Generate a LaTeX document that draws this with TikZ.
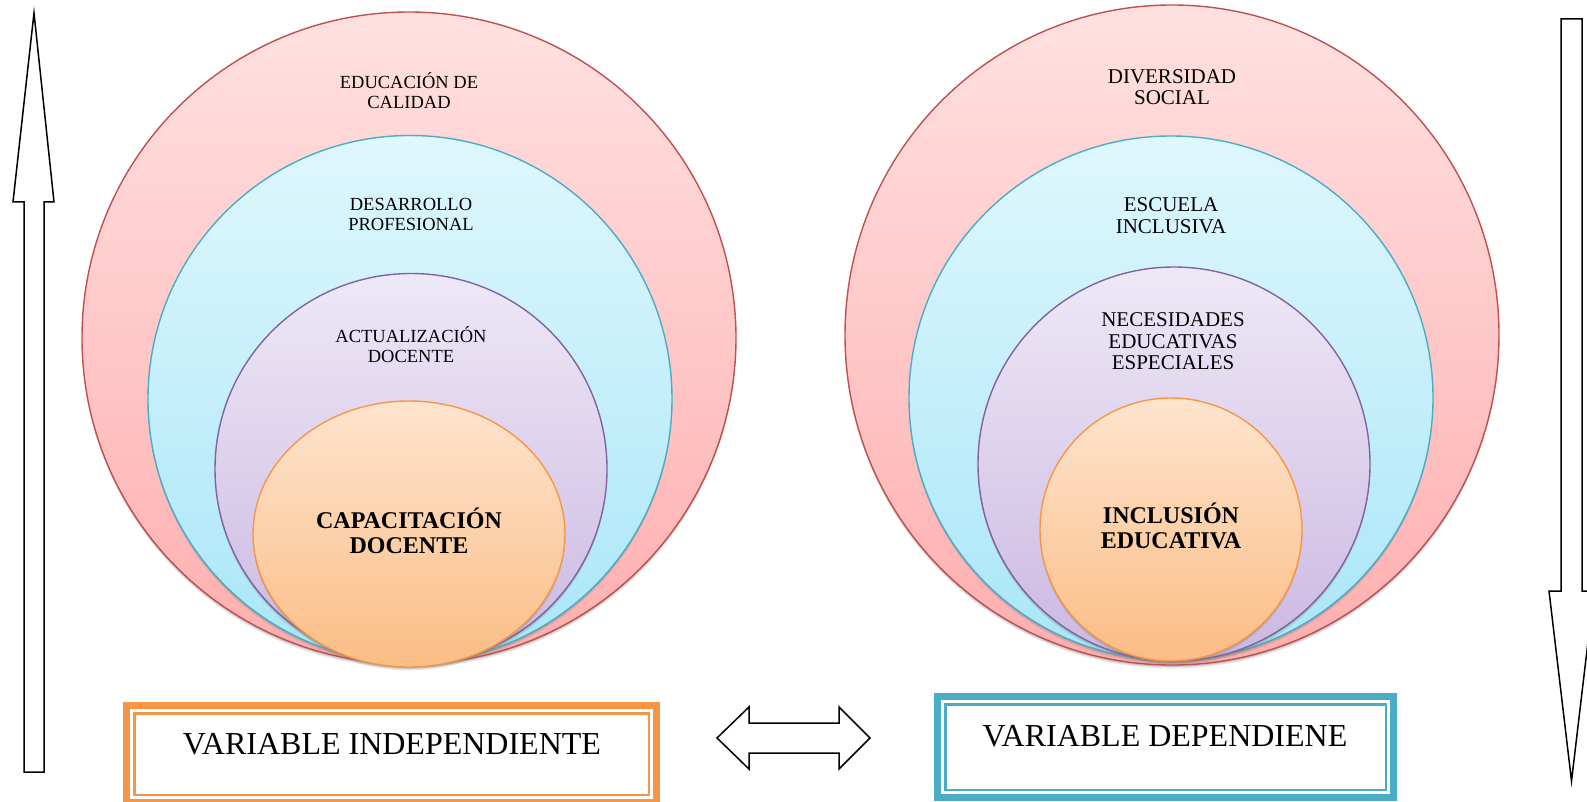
\documentclass[tikz,border=0pt]{standalone}
\usepackage{fontspec}
\setmainfont{Liberation Serif}
\usetikzlibrary{shapes.geometric,shadows}
\definecolor{redline}{HTML}{C0504D}
\definecolor{redtop}{HTML}{FFE1E1}
\definecolor{redbot}{HTML}{FFAEAE}
\definecolor{blueline}{HTML}{4BACC6}
\definecolor{bluetop}{HTML}{DFF7FD}
\definecolor{bluebot}{HTML}{A9E6F8}
\definecolor{purpline}{HTML}{8064A2}
\definecolor{purptop}{HTML}{EEE8F6}
\definecolor{purpbot}{HTML}{CBB8E2}
\definecolor{orgline}{HTML}{F79646}
\definecolor{orgtop}{HTML}{FEE4CE}
\definecolor{orgbot}{HTML}{FBBD85}
\definecolor{boxorg}{HTML}{F79646}
\definecolor{boxblue}{HTML}{4BACC6}
\tikzset{
  ring/.style={ellipse, inner sep=0pt, line width=1.4pt,
    drop shadow={shadow xshift=0pt, shadow yshift=-3.5pt, opacity=0.2},
    drop shadow={shadow xshift=0pt, shadow yshift=-1.8pt, opacity=0.35}},
  ringred/.style={ring, draw=redline, top color=redtop, bottom color=redbot},
  ringblue/.style={ring, draw=blueline, top color=bluetop, bottom color=bluebot},
  ringpurp/.style={ring, draw=purpline, top color=purptop, bottom color=purpbot},
  ringorg/.style={ring, draw=orgline, top color=orgtop, bottom color=orgbot},
  lblS/.style={align=center, inner sep=0pt, font=\fontsize{18.5}{19.5}\selectfont},
  lblM/.style={align=center, inner sep=0pt, font=\fontsize{21}{21.5}\selectfont},
  lblB/.style={align=center, inner sep=0pt, font=\bfseries\fontsize{24}{25}\selectfont},
  varbox/.style={rectangle, line width=7pt, fill=white, inner sep=0pt, outer sep=0pt},
  innerline/.style={line width=2.5pt},
  boxtext/.style={font=\fontsize{32}{34}\selectfont, inner sep=0pt, anchor=base},
  bigarrow/.style={draw=black, line width=1.5pt, fill=white, line join=miter}
}
\begin{document}
\begin{tikzpicture}[x=1pt,y=-1pt]
\useasboundingbox (0,0) rectangle (1587,802);
\fill[white] (0,0) rectangle (1587,802);

% left group
\node[ringred,  minimum width=654pt, minimum height=652pt] (LA) at (409,338) {};
\node[ringblue, minimum width=524pt, minimum height=527pt] (LB) at (410,399) {};
\node[ringpurp, minimum width=392pt, minimum height=391pt] (LC) at (411,469) {};
\node[ringorg,  minimum width=312pt, minimum height=266pt] (LD) at (409,534) {};
% right group
\node[ringred,  minimum width=654pt, minimum height=660pt] (RA) at (1172,335) {};
\node[ringblue, minimum width=524pt, minimum height=524pt] (RB) at (1171,398) {};
\node[ringpurp, minimum width=392pt, minimum height=394pt] (RC) at (1174,464) {};
\node[ringorg,  minimum width=262pt, minimum height=263pt] (RD) at (1171,529.5) {};

% labels
\node[lblS] (tLA) at (409,90.5) {EDUCACIÓN DE\\CALIDAD};
\node[lblS] (tLB) at (411,214.5) {DESARROLLO\\PROFESIONAL};
\node[lblS] (tLC) at (411,344.5) {ACTUALIZACIÓN\\DOCENTE};
\node[lblB] (tLD) at (409,531) {CAPACITACIÓN\\DOCENTE};
\node[lblM] (tRA) at (1172,87) {DIVERSIDAD\\SOCIAL};
\node[lblM] (tRB) at (1171,215.5) {ESCUELA\\INCLUSIVA};
\node[lblM] (tRC) at (1173,341.5) {NECESIDADES\\EDUCATIVAS\\ESPECIALES};
\node[lblB] (tRD) at (1171,526) {INCLUSIÓN\\EDUCATIVA};

% boxes (anchors lie on the centre of the thick border line)
\node[varbox, draw=boxorg, minimum width=530pt, minimum height=97pt] (boxL) at (391.5,754) {};
\draw[innerline, boxorg] ([shift={(7.75,7.75)}]boxL.north west) rectangle ([shift={(-7.75,-7.75)}]boxL.south east);
\node[boxtext] (txtL) at (392,754) {VARIABLE INDEPENDIENTE};

\node[varbox, draw=boxblue, minimum width=456pt, minimum height=101pt] (boxR) at (1165.5,747) {};
\draw[innerline, boxblue] ([shift={(7.75,7.75)}]boxR.north west) rectangle ([shift={(-7.75,-7.75)}]boxR.south east);
\node[boxtext] (txtR) at (1165,746) {VARIABLE DEPENDIENE};

% arrows
\draw[bigarrow] (34,13) coordinate (upTip) -- (54,202) -- (44,202) -- (44,772) -- (24,772) -- (24,202) -- (13,202) -- cycle;
\draw[bigarrow] (1561,19) coordinate (downTop) -- (1582,19) -- (1582,591) -- (1594,591) -- (1571.5,781) -- (1549,591) -- (1561,591) -- cycle;
\draw[bigarrow] (717,738) coordinate (dblL) -- (749,707) -- (749,723) -- (839,723) -- (839,707) -- (870,738) coordinate (dblR) -- (839,769) -- (839,753) -- (749,753) -- (749,769) -- cycle;
\end{tikzpicture}
\end{document}
